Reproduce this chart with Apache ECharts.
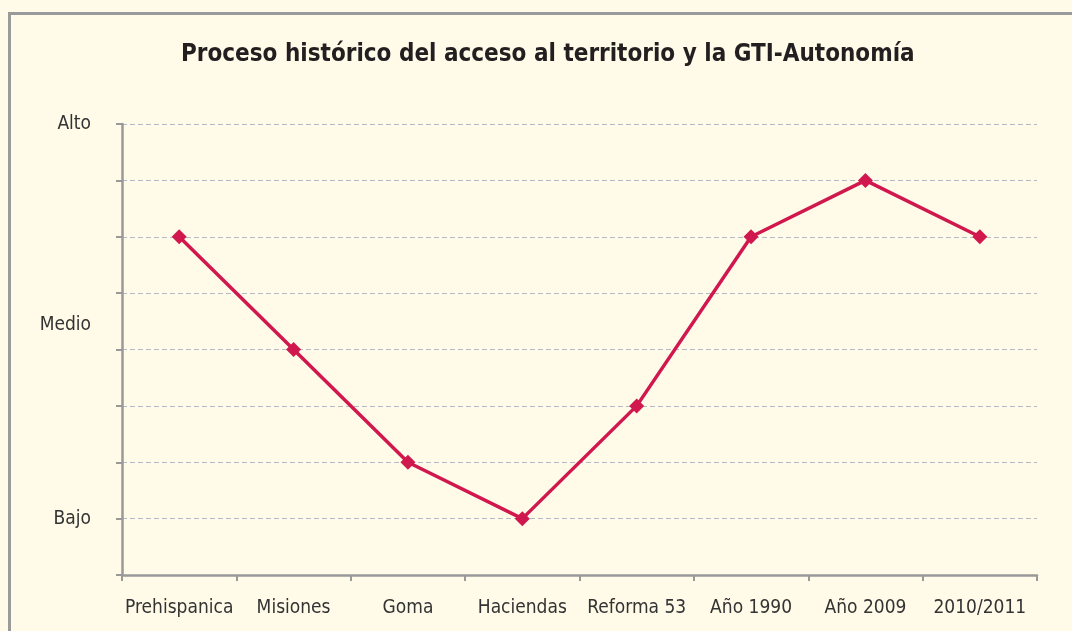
<!DOCTYPE html>
<html>
<head>
<meta charset="utf-8">
<script src="https://cdn.jsdelivr.net/npm/echarts@6/dist/echarts.min.js"></script>
<style>
	html, body { margin: 0; padding: 0; background: #fffbe8; }
	#chart { width: 1072px; height: 631px; }
</style>
</head>
<body>
<div id="chart"></div>
<script>
var periodos = ['Prehispanica', 'Misiones', 'Goma', 'Haciendas', 'Reforma 53', 'Año 1990', 'Año 2009', '2010/2011'];
var nivel = [6, 4, 2, 1, 3, 6, 7, 6];
var nivelTicks = [1, 4.43, 8];
var nivelNombres = ['Bajo', 'Medio', 'Alto'];

var fuente = "'DejaVu Sans Condensed', 'Liberation Sans Narrow', 'Liberation Sans', sans-serif";

var chart = echarts.init(document.getElementById('chart'));
chart.setOption({
	backgroundColor: '#fffbe8',
	animation: false,
	title: {
		text: 'Proceso histórico del acceso al territorio y la GTI-Autonomía',
		left: 176,
		top: 38,
		textStyle: {
			fontFamily: fuente,
			fontWeight: 'bold',
			fontSize: 24,
			color: '#231f20'
		}
	},
	graphic: [{
		type: 'rect',
		shape: { x: 9.5, y: 13.5, width: 1100, height: 700 },
		style: { fill: 'none', stroke: '#9a9a9a', lineWidth: 3 },
		silent: true
	}],
	grid: {
		left: 122,
		right: 35,
		top: 124,
		bottom: 56
	},
	xAxis: {
		type: 'category',
		data: periodos,
		boundaryGap: true,
		axisLine: { lineStyle: { color: '#999', width: 2.5 } },
		axisTick: { show: true, length: 6, lineStyle: { color: '#999', width: 2 } },
		axisLabel: {
			interval: 0,
			margin: 24,
			fontFamily: fuente,
			fontSize: 19,
			color: '#333'
		}
	},
	yAxis: {
		type: 'value',
		min: 0,
		max: 8,
		interval: 1,
		axisLine: { show: true, lineStyle: { color: '#999', width: 2.5 } },
		axisTick: { show: true, length: 6, lineStyle: { color: '#999', width: 2 } },
		splitLine: { show: true, lineStyle: { color: '#b5b8c5', type: [5, 3], width: 1 } },
		axisLabel: {
			margin: 31,
			fontFamily: fuente,
			fontSize: 19,
			color: '#333',
			customValues: nivelTicks,
			formatter: function(value) {
				var i = nivelTicks.indexOf(value);
				return i >= 0 ? nivelNombres[i] : '';
			}
		}
	},
	series: [{
		type: 'line',
		data: nivel,
		symbol: 'diamond',
		symbolSize: 15,
		lineStyle: { color: '#d0184e', width: 3.5 },
		itemStyle: { color: '#d0184e' }
	}]
});
</script>
</body>
</html>
